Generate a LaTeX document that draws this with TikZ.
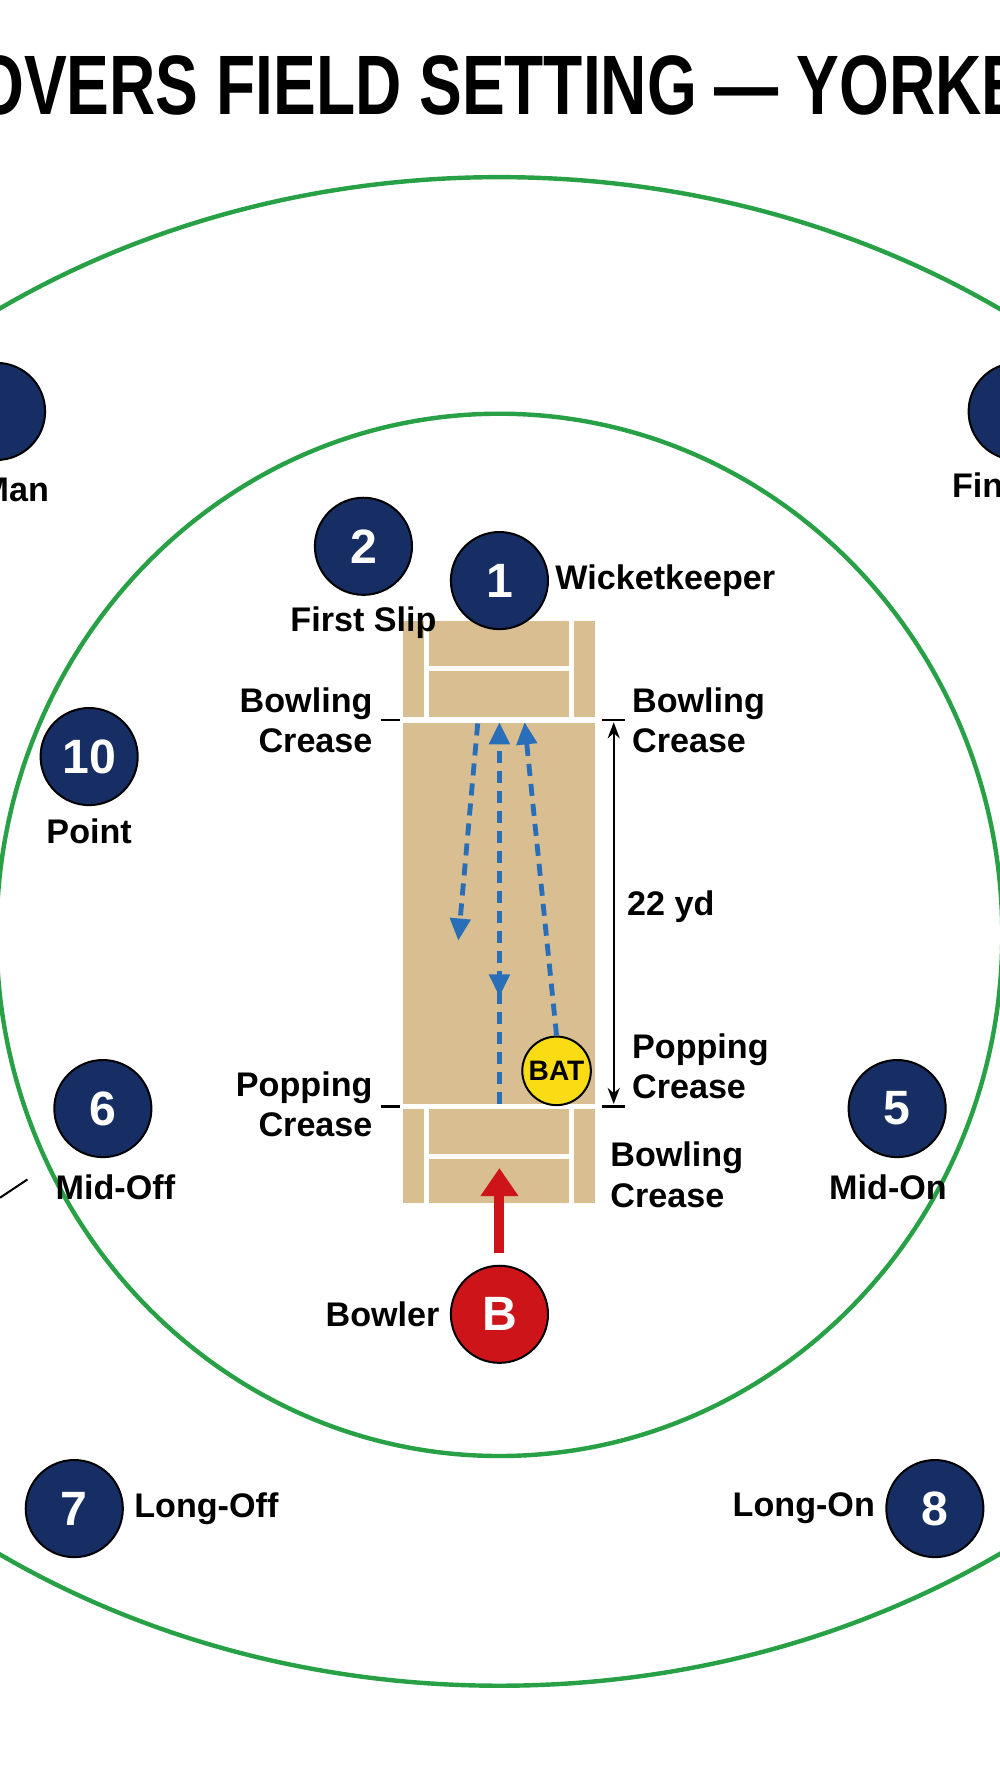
\documentclass[tikz,border=0pt]{standalone}
\usepackage{fontspec}
\setmainfont{Liberation Sans}
\usetikzlibrary{arrows.meta,positioning}
\definecolor{navy}{RGB}{22,46,100}
\definecolor{fieldgreen}{RGB}{40,160,70}
\definecolor{pitchtan}{RGB}{216,190,145}
\definecolor{ballblue}{RGB}{40,110,185}
\definecolor{bowlred}{RGB}{205,20,25}
\definecolor{batyellow}{RGB}{250,220,20}
\begin{document}
\begin{tikzpicture}[x=0.02cm,y=-0.02cm,
  fielder/.style={circle,draw=black,line width=1pt,fill=navy,minimum size=1.7cm,inner sep=0pt,
    text=white,font=\bfseries\fontsize{24}{24}\selectfont},
  tag/.style={font=\bfseries\fontsize{17}{20}\selectfont,inner sep=1pt,align=center},
  crease/.style={font=\bfseries\fontsize{17}{20}\selectfont,inner sep=1pt,align=right},
  creaseR/.style={font=\bfseries\fontsize{17}{20}\selectfont,inner sep=1pt,align=left},
  pathball/.style={ballblue,line width=2.4pt,dash pattern=on 6pt off 4pt,-{Triangle[width=10pt,length=11pt]}},
  chalk/.style={white,line width=2.5pt}]
\useasboundingbox (0,0) rectangle (875,1568);
\begin{scope}
\clip (0,0) rectangle (875,1568);
% ground
\draw[fieldgreen,line width=2.2pt] (437,815) ellipse [x radius=775,y radius=660];
\draw[fieldgreen,line width=2.2pt] (437,818) ellipse [x radius=440,y radius=456];
\node[font=\bfseries\fontsize{42}{42}\selectfont,xscale=0.76,inner sep=0pt] (title) at (437,75) {OVERS FIELD SETTING — YORKE};
% pitch
\fill[pitchtan] (353,543) rectangle (521,1053);
\draw[chalk] (373,543) -- (373,628) (500,543) -- (500,628);
\draw[chalk] (373,968) -- (373,1053) (500,968) -- (500,1053);
\draw[chalk] (373,585) -- (500,585) (373,1012) -- (500,1012);
\draw[chalk] (353,630) -- (521,630) (353,968) -- (521,968);
\draw[line width=1.2pt] (333,630) -- (350,630) (333,968) -- (350,968)
  (527,630) -- (547,630) (527,968) -- (547,968);
\coordinate (dimtop) at (537,632);
\coordinate (dimbot) at (537,966);
\draw[line width=1.2pt,{Stealth[length=8pt]}-{Stealth[length=8pt]}] (dimtop) -- (dimbot);
\node[tag] (yd) at (587,793) {22 yd};
\node[crease,anchor=east] (bcL) at (328,630) {Bowling\\Crease};
\node[creaseR,anchor=west] (bcR) at (551,630) {Bowling\\Crease};
\node[crease,anchor=east] (pcL) at (328,966) {Popping\\Crease};
\node[creaseR,anchor=west] (pcR) at (551,933) {Popping\\Crease};
\node[creaseR,anchor=west] (bcB) at (532,1028) {Bowling\\Crease};
% deliveries
\coordinate (p1) at (418,633);
\coordinate (p1e) at (401,823);
\coordinate (p2) at (437,966);
\coordinate (p2t) at (437,632);
\coordinate (p3t) at (459,632);
\node[circle,draw=black,line width=1pt,fill=batyellow,minimum size=1.2cm,inner sep=0pt,
  font=\bfseries\fontsize{14}{14}\selectfont] (bat) at (487,937) {BAT};
\draw[pathball] (p1) -- (p1e);
\draw[pathball] (p2) -- (p2t);
\draw[pathball,dash pattern=] (437,855) -- (437,872);
\draw[pathball] (bat.north) -- (p3t);
% fielders
\node[fielder] (f0) at (-3,360) {};
\node[tag,anchor=east] at (45,428) {Third Man};
\node[fielder] (f9) at (890,360) {};
\node[tag,anchor=west] at (831,428) {Fine Leg};
\node[fielder] (f2) at (318,478) {2};
\node[tag] at (318,545) {First Slip};
\node[fielder] (f1) at (437,508) {1};
\node[tag,right=2pt of f1] {Wicketkeeper};
\node[fielder] (f10) at (78,662) {10};
\node[tag] at (78,727) {Point};
\node[fielder] (f6) at (90,970) {6};
\node[tag] at (101,1039) {Mid-Off};
\node[fielder] (f5) at (785,970) {5};
\node[tag] at (777,1039) {Mid-On};
\node[fielder] (f7) at (65,1320) {7};
\node[tag,right=4pt of f7] {Long-Off};
\node[fielder] (f8) at (818,1320) {8};
\node[tag,left=4pt of f8] {Long-On};
\draw[line width=1pt] (0,1048) -- (24,1032);
% bowler
\node[fielder,fill=bowlred] (bowl) at (437,1150) {B};
\node[tag,left=4pt of bowl] {Bowler};
\draw[bowlred,line width=5pt,-{Triangle[width=18pt,length=14pt]}] (bowl.north) ++(0,-10) -- (437,1022);
\end{scope}
\end{tikzpicture}
\end{document}
